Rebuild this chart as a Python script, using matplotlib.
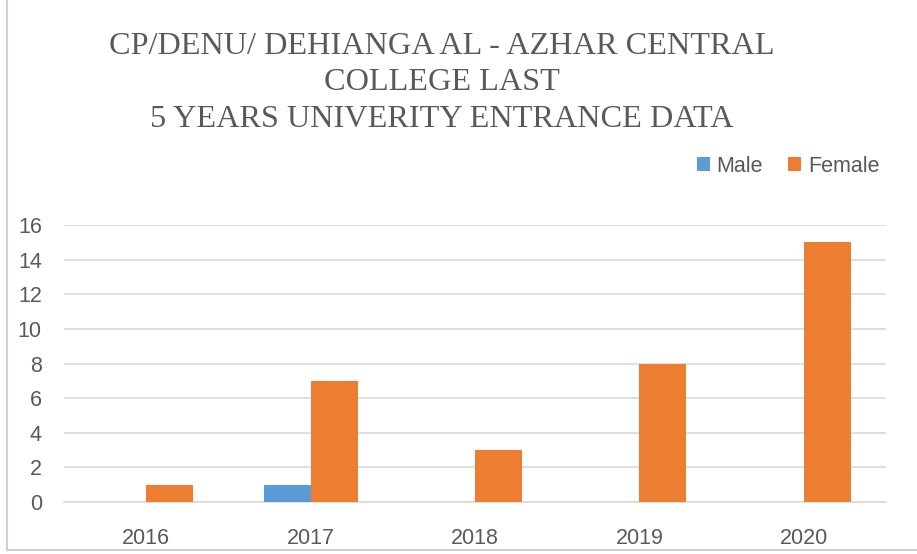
import matplotlib
matplotlib.use("Agg")
import matplotlib.pyplot as plt
import numpy as np
from matplotlib.lines import Line2D

years = ["2016", "2017", "2018", "2019", "2020"]
male = [0, 1, 0, 0, 0]
female = [1, 7, 3, 8, 15]
title_lines = ["CP/DENU/ DEHIANGA AL - AZHAR CENTRAL", "COLLEGE LAST", "5 YEARS UNIVERITY ENTRANCE DATA"]

W, H = 917, 554
fig = plt.figure(figsize=(W/100, H/100), dpi=100)
ax = fig.add_axes([64/W, 1-502/H, (886-64)/W, (502-225)/H])

x = np.arange(len(years))
bw = 0.286
ax.bar(x - bw/2, male, width=bw, color="#5B9BD5", label="Male", zorder=3)
ax.bar(x + bw/2, female, width=bw, color="#ED7D31", label="Female", zorder=3)

ax.set_xlim(-0.5, len(years)-0.5)
ax.set_ylim(0, 16)
ax.set_yticks(np.arange(0, 17, 2))
ax.set_xticks(x)
ax.set_xticklabels(years)
ax.grid(axis="y", color="#D9D9D9", linewidth=1.2, zorder=0)
for s in ["top", "right", "left"]:
    ax.spines[s].set_visible(False)
ax.spines["bottom"].set_color("#D9D9D9")
ax.spines["bottom"].set_linewidth(1.2)
ax.tick_params(axis="both", length=0, labelcolor="#595959", labelsize=15.5)
ax.tick_params(axis="y", pad=16)
ax.tick_params(axis="x", pad=19)
for lbl in ax.get_xticklabels() + ax.get_yticklabels():
    lbl.set_fontfamily("Liberation Sans")

fig.text(442/W, 1-83/H, "\n".join(title_lines), ha="center", va="center",
         fontsize=23.2, family="Liberation Serif", color="#595959", linespacing=1.33)

leg = fig.legend(loc="center", bbox_to_anchor=(788/W, 1-166/H), ncol=2, frameon=False,
                 prop={"family": "Liberation Sans", "size": 15.5}, handlelength=0.6, handleheight=0.6,
                 handletextpad=0.3, columnspacing=1.2)
for t in leg.get_texts():
    t.set_color("#595959")

fig.add_artist(Line2D([7/W, 7/W], [1-550/H, 1.0], transform=fig.transFigure, color="#D0D0D0", linewidth=1.5))
fig.add_artist(Line2D([7/W, 1.0], [1-550/H, 1-550/H], transform=fig.transFigure, color="#D0D0D0", linewidth=1.5))

fig.savefig("out.png", dpi=100)
